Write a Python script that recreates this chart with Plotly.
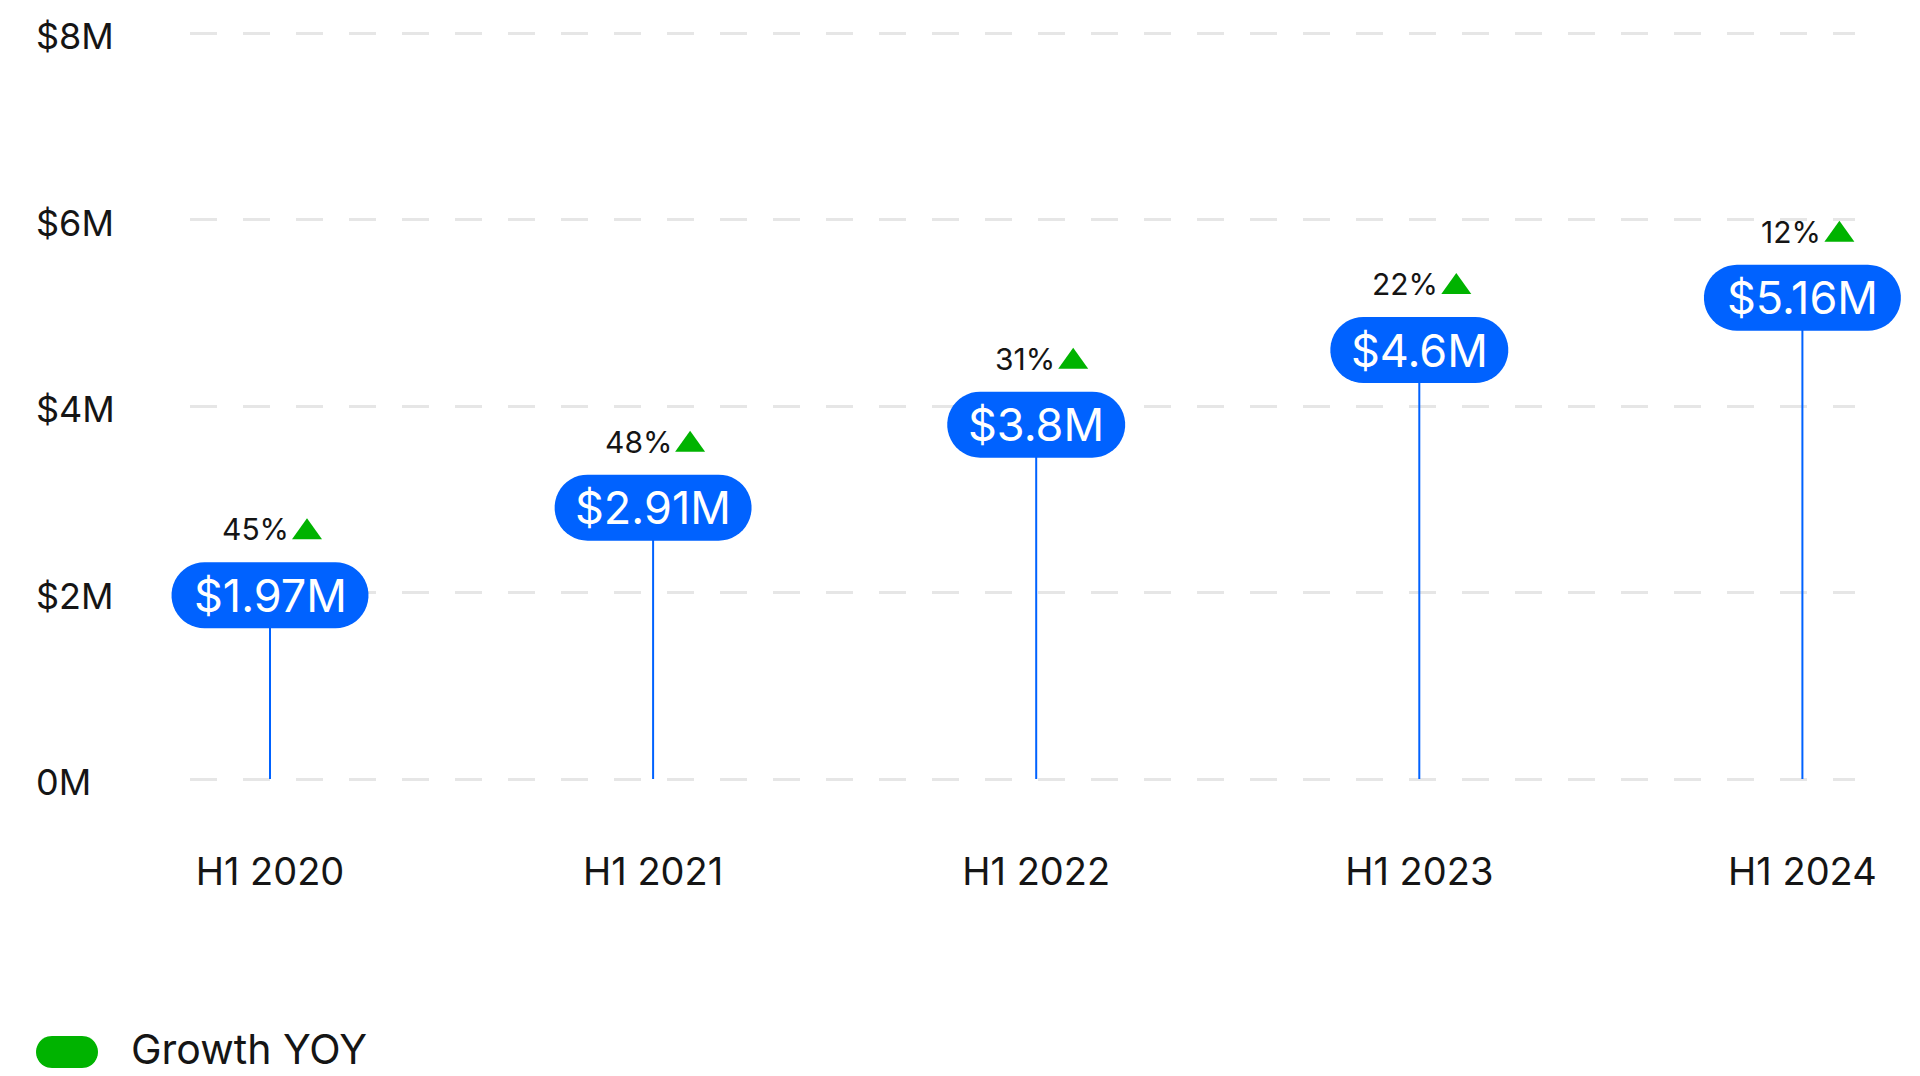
import numpy as np
import plotly.graph_objects as go

# ---- data ----
periods = ["H1 2020", "H1 2021", "H1 2022", "H1 2023", "H1 2024"]
revenue_m = [1.97, 2.91, 3.80, 4.60, 5.16]          # $ millions
revenue_labels = ["$1.97M", "$2.91M", "$3.8M", "$4.6M", "$5.16M"]
growth_labels = ["45%", "48%", "31%", "22%", "12%"]
y_tick_vals = [0, 2, 4, 6, 8]
y_tick_text = ["0M", "$2M", "$4M", "$6M", "$8M"]
legend_label = "Growth YOY"

# ---- styles ----
BLUE = "#0062FF"
GREEN = "#00B300"
TEXT = "#151515"
GRID = "#E6E6E6"
FONT = "Inter"

W, H = 1920, 1076
MT, MB = 15, 295
PH = H - MT - MB
YPAD = 10 / 93.25
Y_RANGE = [-YPAD, 8 + YPAD]
GRID_DOMAIN = [182 / W, 1847 / W]
X0, XSTEP = 262, 383.1
X_RANGE = [-X0 / XSTEP, (W - X0) / XSTEP]

fig = go.Figure()

# invisible trace so that the grid subplot (x / y) exists
fig.add_trace(go.Scatter(x=[0], y=[0], mode="markers", marker=dict(opacity=0),
                         hoverinfo="skip", showlegend=False,
                         xaxis="x", yaxis="y"))

# stems
sx, sy = [], []
for p, v in zip(periods, revenue_m):
    sx += [p, p, None]
    sy += [0, v, None]
fig.add_trace(go.Scatter(x=sx, y=sy, mode="lines",
                         line=dict(color=BLUE, width=2),
                         hoverinfo="skip", showlegend=False,
                         xaxis="x2", yaxis="y2"))


def pill_path(w, h, n=24):
    r = h / 2.0
    pts = []
    for t in np.linspace(-np.pi / 2, np.pi / 2, n):
        pts.append((w / 2 - r + r * np.cos(t), r * np.sin(t)))
    for t in np.linspace(np.pi / 2, 3 * np.pi / 2, n):
        pts.append((-w / 2 + r + r * np.cos(t), r * np.sin(t)))
    return "M " + " L ".join(f"{x:.2f},{y:.2f}" for x, y in pts) + " Z"


shapes = []
annotations = []
for p, v, lab, g in zip(periods, revenue_m, revenue_labels, growth_labels):
    w = 19 * len(lab) + 83
    shapes.append(dict(type="path", xref="x2", yref="y2",
                       xsizemode="pixel", ysizemode="pixel",
                       xanchor=p, yanchor=v,
                       path=pill_path(w, 66),
                       fillcolor=BLUE, line=dict(width=0), layer="above"))
    annotations.append(dict(x=p, y=v, xref="x2", yref="y2", text=lab,
                            showarrow=False, xanchor="center", yanchor="middle",
                            font=dict(family=FONT, size=45, color="white")))
    annotations.append(dict(x=p, y=v, xref="x2", yref="y2", text=g,
                            showarrow=False, xanchor="right", yanchor="middle",
                            font=dict(family=FONT, size=30, color=TEXT),
                            xshift=21, yshift=66))
    shapes.append(dict(type="path", xref="x2", yref="y2",
                       xsizemode="pixel", ysizemode="pixel",
                       xanchor=p, yanchor=v,
                       path="M 22,56 L 52,56 L 37,77 Z",
                       fillcolor=GREEN, line=dict(width=0), layer="above"))

# y tick labels (left aligned)
for tv, tt in zip(y_tick_vals, y_tick_text):
    annotations.append(dict(x=26 / W, y=tv, xref="paper", yref="y2",
                            text=tt, showarrow=False, xanchor="left",
                            yanchor="middle", yshift=-3,
                            font=dict(family=FONT, size=36, color=TEXT)))


# legend
def paper_y(py):
    return (H - MB - py) / PH


shapes.append(dict(type="path", xref="paper", yref="paper",
                   xsizemode="pixel", ysizemode="pixel",
                   xanchor=59 / W, yanchor=paper_y(1044),
                   path=pill_path(62, 32),
                   fillcolor=GREEN, line=dict(width=0)))
annotations.append(dict(x=121 / W, y=paper_y(1041),
                        xref="paper", yref="paper", text=legend_label,
                        showarrow=False, xanchor="left", yanchor="middle",
                        font=dict(family=FONT, size=41, color=TEXT)))

fig.update_layout(
    width=W, height=H,
    margin=dict(l=0, r=0, t=MT, b=MB),
    paper_bgcolor="white", plot_bgcolor="rgba(0,0,0,0)",
    showlegend=False,
    font=dict(family=FONT, color=TEXT),
    shapes=shapes, annotations=annotations,
    xaxis=dict(domain=GRID_DOMAIN, range=[0, 1], visible=False,
               showgrid=False, zeroline=False),
    yaxis=dict(domain=[0, 1], range=Y_RANGE, tickvals=y_tick_vals,
               showticklabels=False, showgrid=True, gridcolor=GRID,
               gridwidth=2.5, griddash="27px,26px", zeroline=False,
               showline=False, ticks=""),
    xaxis2=dict(domain=[0, 1], anchor="y2", type="category",
                categoryarray=periods, range=X_RANGE,
                showgrid=False, zeroline=False, showline=False, ticks="",
                tickfont=dict(family=FONT, size=38, color=TEXT),
                ticklabelstandoff=57),
    yaxis2=dict(domain=[0, 1], anchor="x2", range=Y_RANGE,
                showgrid=False, zeroline=False, showline=False,
                showticklabels=False, ticks=""),
)

fig.write_html("out.html")
